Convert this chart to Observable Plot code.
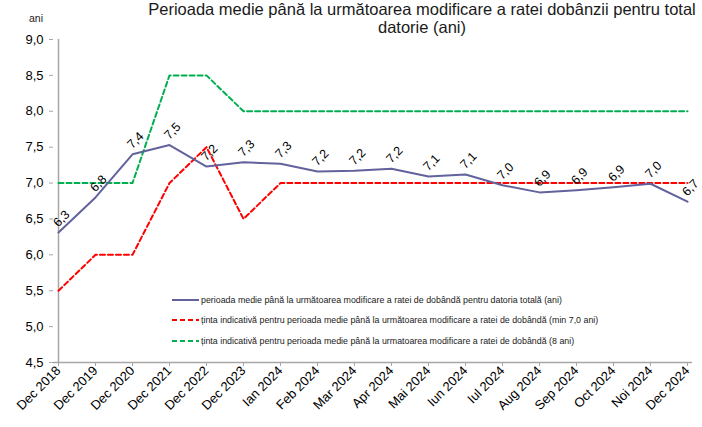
<!DOCTYPE html>
<html>
<head>
<meta charset="utf-8">
<script src="https://cdn.jsdelivr.net/npm/d3@7"></script>
<script src="https://cdn.jsdelivr.net/npm/@observablehq/plot@0.6"></script>
<style>
  html, body { margin: 0; padding: 0; background: #fff; }
  #chart { position: relative; width: 702px; height: 427px; font-family: "Liberation Sans", Arial, sans-serif; }
  #chart svg { font-family: "Liberation Sans", Arial, sans-serif; }
</style>
</head>
<body>
<div id="chart"></div>
<script>
const categories = ["Dec 2018","Dec 2019","Dec 2020","Dec 2021","Dec 2022","Dec 2023","Ian 2024","Feb 2024","Mar 2024","Apr 2024","Mai 2024","Iun 2024","Iul 2024","Aug 2024","Sep 2024","Oct 2024","Noi 2024","Dec 2024"];
const actual = [6.31, 6.80, 7.40, 7.53, 7.23, 7.29, 7.27, 7.16, 7.17, 7.20, 7.09, 7.12, 6.97, 6.87, 6.90, 6.94, 6.99, 6.74];
const targetMin = [5.5, 6.0, 6.0, 7.0, 7.5, 6.5, 7.0, 7.0, 7.0, 7.0, 7.0, 7.0, 7.0, 7.0, 7.0, 7.0, 7.0, 7.0];
const target8 = [7.0, 7.0, 7.0, 8.5, 8.5, 8.0, 8.0, 8.0, 8.0, 8.0, 8.0, 8.0, 8.0, 8.0, 8.0, 8.0, 8.0, 8.0];
const yTicks = [4.5, 5.0, 5.5, 6.0, 6.5, 7.0, 7.5, 8.0, 8.5, 9.0];
const seriesNames = [
  "perioada medie până la următoarea modificare a ratei de dobândă pentru datoria totală (ani)",
  "ținta indicativă pentru perioada medie până la următoarea modificare a ratei de dobândă (min 7,0 ani)",
  "ținta indicativă pentru perioada medie până la urmatoarea modificare a ratei de dobândă (8 ani)"
];
const titleLines = ["Perioada medie până la următoarea modificare a ratei dobânzii pentru total", "datorie (ani)"];
const yUnit = "ani";

const fmt = v => v.toFixed(1).replace(".", ",");
const rows = (vals) => categories.map((c, i) => ({c, v: vals[i]}));

const colors = ["#62629C", "#FF0000", "#00B050"];

const plot = Plot.plot({
  width: 702,
  height: 427,
  marginLeft: 53,
  marginRight: 10,
  marginTop: 39,
  marginBottom: 65,
  style: {fontFamily: "Liberation Sans, Arial, sans-serif", background: "#fff"},
  x: {type: "point", domain: categories, padding: 0},
  y: {domain: [4.5, 9]},
  marks: [
    Plot.axisY({ticks: yTicks, tickFormat: fmt, tickSize: 4, tickPadding: 6, fontSize: 13, label: null, stroke: "#a6a6a6", color: "#000"}),
    Plot.axisX({tickSize: 4, tickPadding: 2, tickRotate: -45, fontSize: 13, label: null, stroke: "#a6a6a6", color: "#000"}),
    Plot.ruleY([4.5], {stroke: "#a6a6a6", strokeWidth: 1.5}),
    Plot.ruleX([categories[0]], {stroke: "#a6a6a6", strokeWidth: 1.5}),
    Plot.line(rows(target8), {x: "c", y: "v", stroke: colors[2], strokeWidth: 2, strokeDasharray: "5,3"}),
    Plot.line(rows(targetMin), {x: "c", y: "v", stroke: colors[1], strokeWidth: 2, strokeDasharray: "5,3"}),
    Plot.line(rows(actual), {x: "c", y: "v", stroke: colors[0], strokeWidth: 2}),
    Plot.text(rows(actual), {x: "c", y: "v", text: d => fmt(d.v), rotate: -45, dx: 3, dy: -14, fontSize: 12.5, fill: "#000"})
  ]
});

const chart = document.getElementById("chart");
chart.appendChild(plot);

const svg = d3.select(plot);
// Title
svg.append("text").attr("x", 422).attr("y", 15).attr("text-anchor", "middle")
  .attr("font-size", 16.5).attr("fill", "#1a1a1a").text(titleLines[0]);
svg.append("text").attr("x", 422).attr("y", 33).attr("text-anchor", "middle")
  .attr("font-size", 16.5).attr("fill", "#1a1a1a").text(titleLines[1]);
// Unit label
svg.append("text").attr("x", 36).attr("y", 21.5).attr("text-anchor", "middle")
  .attr("font-size", 10.5).attr("fill", "#1a1a1a").text(yUnit);

// Legend
const legY = [300, 320, 341];
const dashes = [null, "5,3", "5,3"];
seriesNames.forEach((name, i) => {
  const g = svg.append("g");
  const ln = g.append("line").attr("x1", 172).attr("x2", 199).attr("y1", legY[i]).attr("y2", legY[i])
    .attr("stroke", colors[i]).attr("stroke-width", 2);
  if (dashes[i]) ln.attr("stroke-dasharray", dashes[i]);
  g.append("text").attr("x", 201).attr("y", legY[i] + 3).attr("text-anchor", "start")
    .attr("font-size", 8.85).attr("fill", "#1a1a1a").text(name);
});
</script>
</body>
</html>
